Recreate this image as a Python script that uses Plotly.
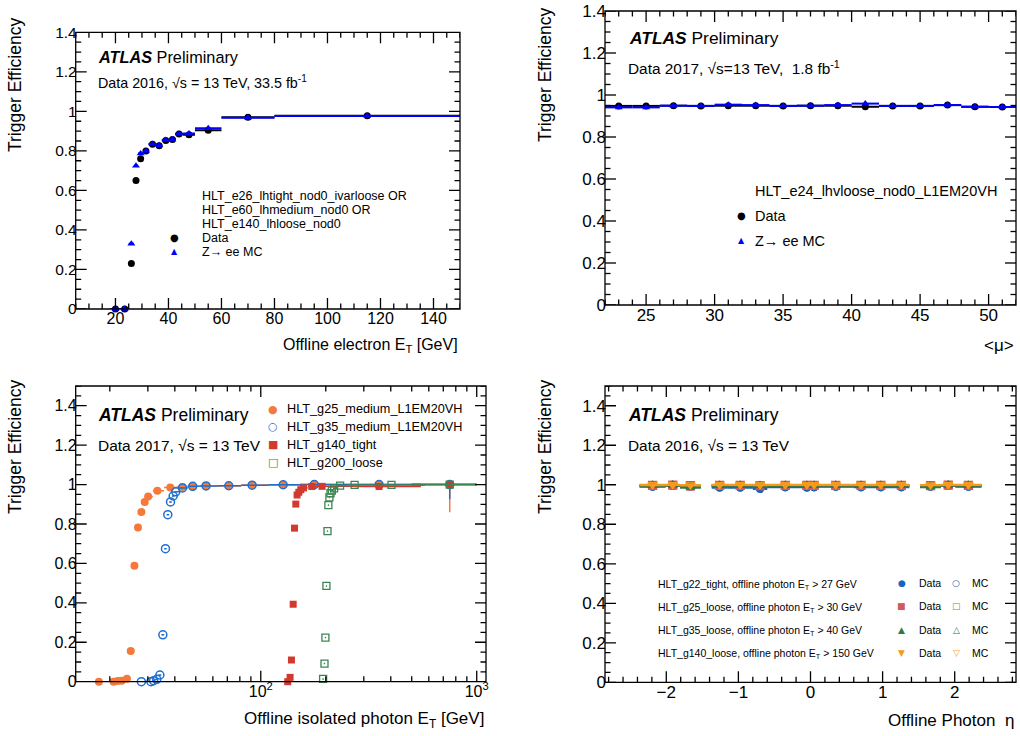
import plotly.graph_objects as go
import numpy as np

W, H = 1020, 736
FONT = "Liberation Sans, Arial, Helvetica, sans-serif"
GLYPH = "DejaVu Sans"

# ---------------- Panel 1 (top-left): electron ET turn-on ----------------
el_et = [20, 23.5, 26, 27.75, 29.5, 31.5, 34, 36.5, 39, 41.5, 44, 47.75, 55, 70, 115]
el_et_hw = [2, 1.5, 1, 0.75, 1, 1, 1.5, 1, 1.5, 1, 1.5, 2.25, 5, 10, 35]
el_data = [0, 0, 0.23, 0.65, 0.76, 0.80, 0.833, 0.826, 0.853, 0.858, 0.885, 0.882, 0.905, 0.970, 0.978]
el_mc = [0, 0, 0.33, 0.725, 0.787, 0.80, 0.835, 0.828, 0.855, 0.858, 0.887, 0.888, 0.914, 0.968, 0.976]

# ---------------- Panel 2 (top-right): efficiency vs <mu> ----------------
mu = [23, 25, 27, 29, 31, 33, 35, 37, 39, 41, 43, 45, 47, 49, 51]
mu_hw = [1] * 15
mu_data = [0.948, 0.948, 0.949, 0.948, 0.949, 0.949, 0.948, 0.949, 0.949, 0.944, 0.948, 0.948, 0.952, 0.944, 0.943]
mu_mc = [0.941, 0.941, 0.949, 0.948, 0.954, 0.952, 0.948, 0.949, 0.952, 0.959, 0.948, 0.948, 0.952, 0.944, 0.943]

# ---------------- Panel 3 (bottom-left): photon ET turn-ons ----------------
g25_et = [17.8, 20.8, 21.7, 22.7, 24.0, 25.0, 26.0, 27.0, 28.0, 29.0, 30.1, 33.2, 38.1, 43.4, 48.4, 55.8, 71.1, 91.2, 127, 177, 353, 750]
g25_eff = [0.0, 0.0, 0.003, 0.005, 0.015, 0.156, 0.588, 0.782, 0.861, 0.912, 0.940, 0.968, 0.985, 0.988, 0.991, 0.993, 0.993, 0.998, 0.998, 1.0, 1.0, 1.0]
g25_err_lo = [0.002] * 21 + [0.14]

g35_et = [28.0, 31.0, 31.9, 33.0, 34.1, 35.2, 36.2, 37.1, 38.2, 39.3, 40.4, 43.4, 48.4, 55.8, 71.1, 91.2, 127, 177, 353, 750]
g35_eff = [0.0, 0.0, 0.005, 0.012, 0.034, 0.238, 0.675, 0.847, 0.912, 0.942, 0.963, 0.983, 0.991, 0.993, 0.994, 0.997, 0.999, 1.0, 1.0, 1.0]
g35_err_lo = [0.002] * 19 + [0.073]

g140_et = [133.3, 136.7, 138.7, 141.3, 143.3, 145.3, 147.3, 150.0, 153.2, 157.7, 172.3, 192.3, 353, 750]
g140_eff = [0.0, 0.022, 0.11, 0.393, 0.779, 0.901, 0.947, 0.961, 0.974, 0.983, 0.990, 0.991, 0.990, 1.0]

g200_et = [194.4, 197.3, 199.2, 201.4, 203.7, 205.6, 207.9, 210.3, 213.3, 218.6, 233, 272, 403, 750]
g200_eff = [0.014, 0.092, 0.224, 0.486, 0.764, 0.896, 0.935, 0.956, 0.969, 0.981, 0.995, 0.998, 0.998, 1.0]

# ---------------- Panel 4 (bottom-right): efficiency vs eta ----------------
eta_lo = [-2.37, -2.01, -1.81, -1.37, -1.15, -0.8, -0.6, -0.1, 0.0, 0.1, 0.6, 0.8, 1.15, 1.52, 1.81, 2.01]
eta_hi = [-2.01, -1.81, -1.52, -1.15, -0.8, -0.6, -0.1, 0.0, 0.1, 0.6, 0.8, 1.15, 1.37, 1.81, 2.01, 2.37]
g22_data = [0.990, 0.995, 0.990, 0.985, 0.985, 0.978, 0.988, 0.985, 0.988, 0.990, 0.988, 0.988, 0.988, 0.990, 0.995, 0.990]
g22_mc = [0.993, 0.997, 0.995, 0.990, 0.990, 0.985, 0.990, 0.990, 0.990, 0.993, 0.990, 0.990, 0.990, 0.993, 0.997, 0.993]
g25l_data = [0.995, 0.997, 0.992, 0.995, 0.995, 0.994, 0.995, 0.995, 0.995, 0.995, 0.995, 0.995, 0.995, 0.994, 0.997, 0.995]
g25l_mc = [0.997, 0.998, 0.995, 0.997, 0.997, 0.996, 0.997, 0.997, 0.997, 0.997, 0.997, 0.997, 0.997, 0.996, 0.998, 0.997]
g35l_data = [0.994, 0.997, 0.985, 0.995, 0.995, 0.994, 0.995, 0.994, 0.995, 0.995, 0.995, 0.995, 0.995, 0.988, 0.997, 0.995]
g35l_mc = [0.997, 0.998, 0.992, 0.997, 0.997, 0.996, 0.997, 0.997, 0.997, 0.997, 0.997, 0.997, 0.997, 0.994, 0.998, 0.997]
g140l_data = [0.998, 0.999, 0.996, 0.999, 0.999, 0.998, 0.999, 0.999, 0.999, 0.999, 0.999, 0.999, 0.999, 0.997, 0.999, 0.999]
g140l_mc = [1.0, 1.0, 0.999, 1.0, 1.0, 1.0, 1.0, 1.0, 1.0, 1.0, 1.0, 1.0, 1.0, 0.999, 1.0, 1.0]

# ---------------- colours ----------------
C_ORANGE = "#f5793a"
C_BLUE = "#1f6fd1"
C_RED = "#d2392f"
C_GREEN = "#3b8551"
E_BLUE = "#1464c0"
E_RED = "#d35a5a"
E_GREEN = "#2c7a48"
E_ORANGE = "#f59a1c"


def px(x):
    return x / W


def py(y):
    return 1 - y / H


def log_bins(centers, last_hi=None):
    c = np.asarray(centers, dtype=float)
    mids = (c[1:] + c[:-1]) / 2
    lo = np.concatenate([[c[0] - (mids[0] - c[0])], mids])
    hi = np.concatenate([mids, [c[-1] + (c[-1] - mids[-1])]])
    if last_hi is not None:
        hi[-1] = last_hi
        lo[-1] = c[-1] - (last_hi - c[-1])
    return (hi - c).tolist(), (c - lo).tolist()


fig = go.Figure()

# ---- panel 1 traces
fig.add_trace(go.Scatter(
    x=el_et, y=el_data, mode="markers", xaxis="x", yaxis="y", cliponaxis=False,
    marker=dict(symbol="circle", size=7, color="black", line=dict(width=0)),
    error_x=dict(type="data", array=el_et_hw, width=0, thickness=2, color="black"),
    showlegend=False))
fig.add_trace(go.Scatter(
    x=el_et, y=el_mc, mode="markers", xaxis="x", yaxis="y", cliponaxis=False,
    marker=dict(symbol="triangle-up", size=7, color="#0000ff", line=dict(width=0)),
    error_x=dict(type="data", array=el_et_hw, width=0, thickness=2, color="#0000ff"),
    showlegend=False))

# ---- panel 2 traces
fig.add_trace(go.Scatter(
    x=mu, y=mu_data, mode="markers", xaxis="x2", yaxis="y2", cliponaxis=False,
    marker=dict(symbol="circle", size=7, color="black", line=dict(width=0)),
    error_x=dict(type="data", array=mu_hw, width=0, thickness=2, color="black"),
    showlegend=False))
fig.add_trace(go.Scatter(
    x=mu, y=mu_mc, mode="markers", xaxis="x2", yaxis="y2", cliponaxis=False,
    marker=dict(symbol="triangle-up", size=7, color="#0000ff", line=dict(width=0)),
    error_x=dict(type="data", array=mu_hw, width=0, thickness=2, color="#0000ff"),
    showlegend=False))

# ---- panel 3 traces
series3 = [
    (g25_et, g25_eff, g25_err_lo, dict(symbol="circle", size=8, color=C_ORANGE, line=dict(width=0)), C_ORANGE),
    (g35_et, g35_eff, g35_err_lo, dict(symbol="circle-open", size=8, color=C_BLUE, line=dict(width=1.5)), C_BLUE),
    (g140_et, g140_eff, None, dict(symbol="square", size=7, color=C_RED, line=dict(width=0)), C_RED),
    (g200_et, g200_eff, None, dict(symbol="square-open", size=7, color=C_GREEN, line=dict(width=1.3)), C_GREEN),
]
for xs, ys, elo, mk, col in series3:
    ep, em = log_bins(xs, last_hi=1000)
    ey = dict(type="data", symmetric=False, array=[0] * len(ys),
              arrayminus=elo if elo is not None else [0.002] * len(ys),
              width=0, thickness=1.5, color=col)
    fig.add_trace(go.Scatter(
        x=xs, y=ys, mode="markers", xaxis="x3", yaxis="y3", marker=mk, cliponaxis=False,
        error_x=dict(type="data", symmetric=False, array=ep, arrayminus=em,
                     width=0, thickness=1.5, color=col),
        error_y=ey, showlegend=False))

# ---- panel 4 traces
eta_c = [(a + b) / 2 for a, b in zip(eta_lo, eta_hi)]
eta_hw = [(b - a) / 2 for a, b in zip(eta_lo, eta_hi)]
series4 = [
    (g22_data, "circle", E_BLUE), (g22_mc, "circle-open", E_BLUE),
    (g25l_data, "square", E_RED), (g25l_mc, "square-open", E_RED),
    (g35l_data, "triangle-up", E_GREEN), (g35l_mc, "triangle-up-open", E_GREEN),
    (g140l_data, "triangle-down", E_ORANGE), (g140l_mc, "triangle-down-open", E_ORANGE),
]
for ys, sym, col in series4:
    opn = sym.endswith("open")
    fig.add_trace(go.Scatter(
        x=eta_c, y=ys, mode="markers", xaxis="x4", yaxis="y4", cliponaxis=False,
        marker=dict(symbol=sym, size=8, color=col, line=dict(width=1.3 if opn else 0, color=col)),
        error_x=dict(type="data", array=eta_hw, width=0, thickness=2, color=col),
        error_y=dict(type="data", array=[0.002] * len(ys), width=0, thickness=1.5, color=col),
        showlegend=False))

# ---------------- panel geometry (pixels) & axes ----------------
LW = 1.3   # frame width
TW = 1.3   # tick thickness (px)
panels = [
    dict(xa="x", ya="y", xp=(75.7, 460), yp=(32.3, 309), xr=(5, 150), yr=(0, 1.4), log=False,
         xmaj=20, xmin=5, ymaj=0.2, ymin=0.05, xfs=16, yfs=15.5),
    dict(xa="x2", ya="y2", xp=(605, 1016), yp=(11, 305), xr=(22, 52), yr=(0, 1.4), log=False,
         xmaj=5, xmin=1, ymaj=0.2, ymin=0.05, xfs=17, yfs=17),
    dict(xa="x3", ya="y3", xp=(75.7, 486), yp=(386, 681.7), xr=(13.9, 1104), yr=(0, 1.5), log=True,
         xmaj=None, xmin=None, ymaj=0.2, ymin=0.05, xfs=16, yfs=16),
    dict(xa="x4", ya="y4", xp=(605, 1016), yp=(386, 682.3), xr=(-2.85, 2.85), yr=(0, 1.5), log=False,
         xmaj=1, xmin=0.2, ymaj=0.2, ymin=0.05, xfs=17, yfs=17),
]


def steps(lo, hi, st):
    k0, k1 = int(np.ceil(lo / st - 1e-9)), int(np.floor(hi / st + 1e-9))
    return [round(k * st, 6) for k in range(k0, k1 + 1)]


MAJ, MIN = 11, 5.5   # tick lengths in px

layout_axes = {}
shapes = []
for i, p in enumerate(panels):
    sfx = "" if i == 0 else str(i + 1)
    common = dict(showline=False, ticks="", showgrid=False, zeroline=False, automargin=False,
                  ticklabelstandoff=-2, ticklabeloverflow="allow")
    x_lo, x_hi = p["xr"]
    y_lo, y_hi = p["yr"]
    wpx = p["xp"][1] - p["xp"][0]
    hpx = p["yp"][1] - p["yp"][0]
    if p["log"]:
        xaxis = dict(common, type="log", range=[np.log10(x_lo), np.log10(x_hi)],
                     tickmode="array", tickvals=[100, 1000], ticktext=["10<sup>2</sup>", "10<sup>3</sup>"])
        xmaj_vals = [100, 1000]
        xmin_vals = [v * d for d in (10, 100) for v in range(2, 10)]
        xmin_vals = [v for v in xmin_vals if x_lo <= v <= x_hi]
        dec = np.log10(x_hi) - np.log10(x_lo)
        left_len = lambda L: x_lo * (10 ** (L / wpx * dec) - 1)
        right_len = lambda L: x_hi * (1 - 10 ** (-L / wpx * dec))
    else:
        xaxis = dict(common, range=[x_lo, x_hi], dtick=p["xmaj"], tick0=0)
        xmaj_vals = steps(x_lo, x_hi, p["xmaj"])
        xmin_vals = [v for v in steps(x_lo, x_hi, p["xmin"]) if v not in xmaj_vals]
        left_len = right_len = lambda L: L / wpx * (x_hi - x_lo)
    xaxis.update(domain=[px(p["xp"][0]), px(p["xp"][1])], anchor="y" + sfx,
                 tickfont=dict(family=FONT, size=p["xfs"], color="black"))
    yaxis = dict(common, range=[y_lo, y_hi], dtick=p["ymaj"], tick0=0,
                 domain=[py(p["yp"][1]), py(p["yp"][0])], anchor="x" + sfx,
                 tickfont=dict(family=FONT, size=p["yfs"], color="black"))
    layout_axes["xaxis" + sfx] = xaxis
    layout_axes["yaxis" + sfx] = yaxis

    ymaj_vals = steps(y_lo, y_hi, p["ymaj"])
    ymin_vals = [v for v in steps(y_lo, y_hi, p["ymin"]) if v not in ymaj_vals]

    # ROOT-style inside tick marks on all four sides, drawn as error-bar segments
    tx, ty, up, dn = [], [], [], []
    for vals, L in ((xmaj_vals, MAJ), (xmin_vals, MIN)):
        d = L / hpx * (y_hi - y_lo)
        for v in vals:
            tx += [v, v]
            ty += [y_lo, y_hi]
            up += [d, 0]
            dn += [0, d]
    fig.add_trace(go.Scatter(
        x=tx, y=ty, mode="markers", xaxis=p["xa"], yaxis=p["ya"], cliponaxis=False,
        marker=dict(size=1, color="rgba(0,0,0,0)"), hoverinfo="skip", showlegend=False,
        error_y=dict(type="data", symmetric=False, array=up, arrayminus=dn,
                     width=0, thickness=TW, color="black")))
    sx, sy, rt, lf = [], [], [], []
    for vals, L in ((ymaj_vals, MAJ), (ymin_vals, MIN)):
        for v in vals:
            sx += [x_lo, x_hi]
            sy += [v, v]
            rt += [left_len(L), 0]
            lf += [0, right_len(L)]
    fig.add_trace(go.Scatter(
        x=sx, y=sy, mode="markers", xaxis=p["xa"], yaxis=p["ya"], cliponaxis=False,
        marker=dict(size=1, color="rgba(0,0,0,0)"), hoverinfo="skip", showlegend=False,
        error_x=dict(type="data", symmetric=False, array=rt, arrayminus=lf,
                     width=0, thickness=TW, color="black")))

    shapes.append(dict(type="rect", xref=f"{p['xa']} domain", yref=f"{p['ya']} domain",
                       x0=0, x1=1, y0=0, y1=1, line=dict(color="black", width=LW),
                       fillcolor="rgba(0,0,0,0)", layer="above"))

fig.update_layout(**layout_axes)

# ---------------- annotations ----------------
ann = []


def text(x, y, s, size, xanchor="left", yanchor="middle", family=FONT, color="black", angle=0):
    ann.append(dict(xref="paper", yref="paper", x=px(x), y=py(y), text=s, showarrow=False,
                    xanchor=xanchor, yanchor=yanchor, textangle=angle,
                    font=dict(family=family, size=size, color=color)))


ATLAS = "<b><i>ATLAS</i></b> Preliminary"
# panel 1
text(96, 57, ATLAS, 16.3)
text(96, 82, "Data 2016, √s = 13 TeV, 33.5 fb<sup>-1</sup>", 14.3)
text(200, 195.7, "HLT_e26_lhtight_nod0_ivarloose OR", 12.5)
text(200, 209.7, "HLT_e60_lhmedium_nod0 OR", 12.5)
text(200, 223.7, "HLT_e140_lhloose_nod0", 12.5)
text(200, 237.7, "Data", 12.5)
text(200, 251.7, "Z→ ee MC", 12.5)
text(174, 237.7, "●", 10, xanchor="center", family=GLYPH)
text(174, 251.7, "▲", 8, xanchor="center", family=GLYPH, color="#0000ff")
text(15, 16, "Trigger Efficiency", 17.5, xanchor="center", yanchor="top", angle=-90)
text(460, 346, "Offline electron E<sub>T</sub> [GeV]", 16, xanchor="right")

# panel 2
text(626.7, 37.7, ATLAS, 17.4)
text(626, 68, "Data 2017, √s=13 TeV,  1.8 fb<sup>-1</sup>", 15.4)
text(753.3, 190.7, "HLT_e24_lhvloose_nod0_L1EM20VH", 14.5)
text(753.3, 216, "Data", 14.5)
text(753.3, 240.7, "Z→ ee MC", 14.5)
text(741.7, 216, "●", 10, xanchor="center", family=GLYPH)
text(741.7, 240.7, "▲", 8, xanchor="center", family=GLYPH, color="#0000ff")
text(545, 6, "Trigger Efficiency", 17.5, xanchor="center", yanchor="top", angle=-90)
text(1016, 345, "&lt;μ&gt;", 17, xanchor="right")

# panel 3
text(96, 415, ATLAS, 17.5)
text(96, 445, "Data 2017, √s = 13 TeV", 15.5)
leg3 = [("HLT_g25_medium_L1EM20VH", "●", C_ORANGE), ("HLT_g35_medium_L1EM20VH", "○", C_BLUE),
        ("HLT_g140_tight", "■", C_RED), ("HLT_g200_loose", "□", C_GREEN)]
for i, (lab, g, c) in enumerate(leg3):
    yy = 409 + i * 17.9
    text(285, yy, lab, 12.7)
    text(272.7, yy, g, 11, xanchor="center", family=GLYPH, color=c)
text(15, 378, "Trigger Efficiency", 17.5, xanchor="center", yanchor="top", angle=-90)
text(486, 720, "Offline isolated photon E<sub>T</sub> [GeV]", 17, xanchor="right")

# panel 4
text(626, 415, ATLAS, 17.5)
text(626, 445, "Data 2016, √s = 13 TeV", 15.4)
leg4 = [("HLT_g22_tight, offline photon E<sub>T</sub> &gt; 27 GeV", "●", "○", E_BLUE),
        ("HLT_g25_loose, offline photon E<sub>T</sub> &gt; 30 GeV", "■", "□", E_RED),
        ("HLT_g35_loose, offline photon E<sub>T</sub> &gt; 40 GeV", "▲", "△", E_GREEN),
        ("HLT_g140_loose, offline photon E<sub>T</sub> &gt; 150 GeV", "▼", "▽", E_ORANGE)]
for i, (lab, gd, gm, c) in enumerate(leg4):
    yy = 583.3 + i * 23.1
    text(656, yy + 1.5, lab, 10.5)
    text(901.7, yy, gd, 9, xanchor="center", family=GLYPH, color=c)
    text(916.7, yy, "Data", 10.5)
    text(956, yy, gm, 9, xanchor="center", family=GLYPH, color=c)
    text(970, yy, "MC", 10.5)
text(545, 378, "Trigger Efficiency", 17.5, xanchor="center", yanchor="top", angle=-90)
text(1016, 720, "Offline Photon  η", 17, xanchor="right")

fig.update_layout(
    annotations=ann,
    shapes=shapes,
    width=W, height=H, autosize=False,
    margin=dict(l=0, r=0, t=0, b=0, pad=0, autoexpand=False),
    paper_bgcolor="white", plot_bgcolor="white",
    font=dict(family=FONT, color="black"),
    showlegend=False,
)

# remove the default 8px page margin so the figure fills the window exactly
fig.write_html("out.html", config={"displayModeBar": False},
               post_script="document.body.style.margin='0px';document.body.style.overflow='hidden';")
